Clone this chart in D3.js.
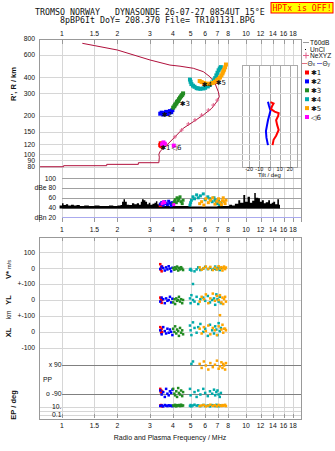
<!DOCTYPE html>
<html>
<head>
<meta charset="utf-8">
<title>Dynasonde ionogram</title>
<script src="https://d3js.org/d3.v7.min.js"></script>
<style>
  body { margin: 0; background: #fff; }
  text { font-family: "Liberation Sans", Arial, sans-serif; fill: #111; }
  .mono { font-family: "DejaVu Sans Mono", "Liberation Mono", monospace; white-space: pre; }
  .grid { stroke: #d6d6d6; stroke-width: 1; shape-rendering: crispEdges; }
  .frame { stroke: #999; stroke-width: 1; fill: none; shape-rendering: crispEdges; }
</style>
</head>
<body>
<svg id="chart" width="335" height="451"></svg>
<script>
// header
const titleLines = ["TROMSO NORWAY   DYNASONDE 26-07-27 0854UT 15\u00b0E", "8pBP6It DoY= 208.370 File= TR101131.BPG"];
const warningText = "HPTx is OFF!";

// axes
const freqTicks = [1, 1.5, 2, 3, 4, 5, 6, 7, 8, 10, 12, 14, 16, 18];
const heightTicks = [800, 600, 400, 300, 200, 150, 120, 100, 90, 80];
const ampTicks = [100, 80, 60, 40, 20];
const ampTickLabels = ["100", "dBe 80", "60", "40", "dBn 20"];
const tiltTicks = [-20, -10, 0, 10, 20];

// real height profile (MHz, km)
const profFreq = [0.76, 1.02, 1.02, 1.75, 1.75, 2.6, 2.6, 3.36, 3.38, 3.36, 3.42, 3.71, 4.11, 4.56, 5.17, 5.86, 6.51, 6.93, 7.16, 7.07, 6.78, 6.37, 5.86, 5.17, 4.38, 3.86, 3.01, 2.0, 1.51, 1.29];
const profHeight = [80, 80, 81.5, 81.5, 83.5, 83.5, 86, 86, 95, 100, 106, 118, 137, 160, 180, 203, 229, 258, 283, 309, 360, 405, 444, 472, 490, 500, 548, 656, 709, 740];

// NeXYZ markers on the profile
const neFreq = [3.71, 4.11, 4.47, 4.86, 5.28, 5.74, 6.24, 6.64, 6.98];
const neHeight = [118, 137, 155, 173, 186, 203, 222, 243, 266];

// tilt profile (deg, km)
const tiltXDeg = [1, 4, 2.5, 1.5, 5, 9, 8.5, 6.5, 7.5, 9, 6.5, 4, 3];
const tiltXHeight = [256, 250, 238, 226, 216, 210, 200, 185, 170, 155, 140, 130, 118];
const tiltYDeg = [-1.5, -0.5, 1, 0, -1.5, -2.5, -3.5, -3, -1.5];
const tiltYHeight = [258, 240, 220, 205, 185, 168, 152, 135, 118];

// unclassified amplitude (MHz, dB)
const noiseFreq = [0.97, 1.0, 1.02, 1.05, 1.08, 1.12, 1.16, 1.2, 1.25, 1.32, 1.4, 1.5, 1.6, 1.7, 1.8, 1.9, 2.0, 2.08, 2.12, 2.16, 2.2, 2.25, 2.32, 2.4, 2.47, 2.55, 2.62, 2.68, 2.72, 2.78, 2.84, 2.9, 2.96, 3.02, 3.1, 3.18, 3.24, 3.3, 3.36, 3.5, 4.0, 4.6, 5.0, 6.0, 7.0, 7.8, 8.1, 8.4, 8.7, 9.08, 9.3, 9.67, 9.9, 10.2, 10.5, 10.8, 11.09, 11.3, 11.66, 11.9, 12.2, 12.5, 12.8, 13.2, 13.5, 13.8, 14.07, 14.4, 14.8, 15.1, 15.3];
const noiseDb = [44, 49, 45, 47, 44, 46, 44, 45, 43, 44, 43, 44, 43, 43, 44, 43, 44, 45, 52, 57, 52, 46, 45, 49, 47, 49, 46, 52, 57, 55, 52, 47, 50, 46, 48, 50, 53, 47, 44, 43, 43, 43, 42, 42, 43, 43, 46, 44, 48, 55, 50, 66, 52, 62, 50, 54, 70, 60, 59, 52, 55, 49, 51, 55, 48, 50, 52, 47, 57, 46, 46];

// echo clusters
const clusterNames = ["\u27311", "\u27312", "\u27313", "\u27314", "\u27315", "\u25c16"];
const clusterColors = ["#ff0000", "#0000ff", "#228b22", "#00aaaa", "#ffa500", "#ff00ff"];
const labelFreq = [3.42, 3.5, 4.36, 5.74, 6.84, 3.94];
const labelHeight = [108, 195, 239, 337, 349, 108];

const echoFreq = [
  [3.42, 3.44, 3.46, 3.48, 3.50],
  [3.42, 3.48, 3.55, 3.62, 3.68, 3.74, 3.80, 3.86, 3.92, 3.98],
  [4.02, 4.08, 4.12, 4.18, 4.22, 4.28, 4.32, 4.38, 4.44, 4.50, 4.55],
  [4.96, 5.00, 5.05, 5.15, 5.25, 5.39, 5.50, 5.65, 5.86, 6.00, 6.20, 6.37, 6.55, 6.70, 6.80, 6.90, 7.00, 7.10, 7.20, 7.30],
  [5.60, 5.74, 5.90, 6.05, 6.24, 6.40, 6.60, 6.78, 6.95, 7.10, 7.22, 7.35, 7.45, 7.52, 7.60, 7.70, 7.78],
  [3.50, 3.56, 3.62, 4.05]
];
const echoRange = [
  [118, 122, 116, 120, 117],
  [208, 212, 205, 210, 215, 207, 212, 218, 214, 222],
  [232, 238, 245, 250, 258, 262, 270, 278, 285, 292, 300],
  [385, 370, 355, 345, 338, 330, 328, 326, 328, 332, 340, 350, 365, 380, 395, 415, 435, 455, 470, 482],
  [375, 368, 362, 358, 356, 358, 362, 370, 380, 390, 400, 415, 430, 445, 460, 480, 505],
  [120, 124, 121, 117]
];
const echoAmp = [
  [44, 47, 45, 48, 46],
  [47, 50, 45, 52, 48, 46, 53, 49, 44, 50],
  [48, 52, 56, 50, 60, 54, 58, 62, 52, 48, 55],
  [45, 50, 55, 62, 58, 66, 60, 64, 68, 56, 62, 58, 52, 60, 55, 50, 48, 54, 46, 50],
  [48, 52, 45, 58, 50, 55, 60, 47, 53, 58, 50, 46, 54, 60, 52, 48, 55],
  [48, 52, 50, 46]
];
const echoVstar = [
  [25, -10, 5, -20, 10],
  [-5, 10, 0, -15, 5, -8, 12, -3, -20, 2],
  [0, -10, 5, -5, 10, -15, 2, -8, 6, -3, -12],
  [-10, -5, -15, -100, -20, -8, 5, -12, -3, 8, -6, 2, -10, -4, 10, -8, -2, 5, -12, 0],
  [5, -10, 0, 10, -5, 8, -12, 3, -8, 12, -3, 6, -15, 0, 10, -6, 4],
  []
];
const echoYL = [
  [15, -5, 5, -18, 0],
  [-10, 15, 5, -20, 10, -5, 0, 20, -15, 8],
  [-15, 5, -25, 10, -5, 0, 20, -10, 5, -20, 0],
  [10, -20, 30, 0, -10, 20, -25, 5, 15, -5, 25, -15, 0, 10, -30, 35, 5, -10, 20, -20],
  [-10, 20, 5, 35, -20, 10, 40, -5, 25, 0, 30, -15, 15, -25, 5, 20, -10],
  []
];
const echoXL = [
  [30, 10, -5, 20, 0],
  [10, -15, 30, 5, -10, 20, -5, 15, 0, -20],
  [20, 0, 35, -10, 15, 5, -25, 25, -5, 10, -15],
  [40, 10, -20, 60, 25, -5, 30, 50, 0, 20, -25, 45, 10, -10, 35, 15, -20, 55, 5, 25],
  [20, -10, 30, 5, 40, -15, 25, 10, -20, 35, 105, 15, 45, -5, 20, 20, 10],
  []
];
const echoPP = [
  [-60, -80, -70, -85, -75],
  [-70, -95, -80, -110, -60, -90, -100, -75, -85, -65],
  [-60, -90, -100, -75, -110, -55, -85, -95, -70, -105, -80],
  [-60, -100, 95, 110, -80, -110, -70, -95, -60, -85, -105, -75, -90, -65, -100, -80, -70, -95, -110, -85],
  [95, 70, 110, 85, 60, 100, 75, 90, 115, 65, 80, 105, 70, 95, 85, 60, 100],
  []
];
const echoEP = [
  [20, 15, 25, 18, 12],
  [15, 20, 12, 25, 18, 14, 22, 16, 19, 13],
  [20, 15, 28, 12, 22, 18, 25, 14, 30, 16, 20],
  [15, 25, 12, 20, 30, 18, 22, 14, 26, 16, 20, 12, 24, 18, 15, 28, 20, 13, 22, 17],
  [14, 20, 25, 12, 18, 30, 16, 22, 13, 26, 19, 15, 24, 17, 21, 28, 14],
  []
];

// lower panel rows
const rowTickLabels = ["100", "0", "+-100", "0", "+-100", "0", "-100"];

const svg = d3.select("#chart");

// scales
const x = d3.scaleLog().domain([0.75, 20]).range([39, 301.4]);
const yR = d3.scaleLog().domain([75, 800]).range([170.3, 39]);
const yAmp = d3.scaleLinear().domain([20, 100]).range([217.3, 178.3]);
const yV = d3.scaleLinear().domain([-100, 100]).range([284, 252.3]);
const yYL = d3.scaleLinear().domain([-100, 100]).range([316, 284]);
const yXL = d3.scaleLinear().domain([-100, 100]).range([347.8, 316]);
const yPP = d3.scaleLinear().domain([-90, 90]).range([393.7, 364.7]);
const yEP = d3.scaleLog().domain([0.1, 10]).range([415, 406.7]);
const xTilt = d3.scaleLinear().domain([-27, 27]).range([242, 297]);

const left = 39, right = 301.4;
const topMain = 39, bottomAmp = 222;
const topLow = 236.7, bottomLow = 418.3;
const fmt = d3.format("~g");

// title, one text block with two lines
const title = svg.append("text")
  .attr("class", "mono")
  .style("font-size", "8.3px");
title.selectAll("tspan")
  .data(titleLines)
  .enter().append("tspan")
  .attr("x", (d, i) => i === 0 ? 35 : 60)
  .attr("y", (d, i) => i === 0 ? 15 : 22.8)
  .text(d => d);

svg.append("rect")
  .attr("x", 271).attr("y", 2.5).attr("width", 62).attr("height", 10.5)
  .attr("fill", "#ffff00").attr("stroke", "#ff0000").attr("stroke-width", 1);
svg.append("text")
  .attr("class", "mono")
  .attr("x", 302).attr("y", 10.6)
  .attr("text-anchor", "middle")
  .style("font-size", "8.2px")
  .style("fill", "#ff0000")
  .text(warningText);

// ---- upper panel grid
svg.selectAll(".vgrid")
  .data(freqTicks)
  .enter().append("line")
  .attr("class", "grid")
  .attr("x1", d => Math.round(x(d)) + 0.5).attr("x2", d => Math.round(x(d)) + 0.5)
  .attr("y1", topMain).attr("y2", bottomAmp);

svg.selectAll(".hgrid")
  .data(heightTicks)
  .enter().append("line")
  .attr("class", "grid")
  .attr("x1", left).attr("x2", right)
  .attr("y1", d => Math.round(yR(d)) + 0.5).attr("y2", d => Math.round(yR(d)) + 0.5);

svg.selectAll(".agrid")
  .data(ampTicks)
  .enter().append("line")
  .attr("x1", x(1)).attr("x2", right)
  .attr("y1", d => Math.round(yAmp(d)) + 0.5).attr("y2", d => Math.round(yAmp(d)) + 0.5)
  .attr("stroke", d => d === 20 ? "#aaaaee" : "#a0a0a0")
  .attr("shape-rendering", "crispEdges");

svg.append("path")
  .attr("class", "frame")
  .attr("d", `M${left + 0.5},${bottomAmp}V${topMain + 0.5}H${right}V${bottomAmp}`);

// top and bottom tick marks of upper panel
svg.selectAll(".ttick")
  .data(freqTicks)
  .enter().append("line")
  .attr("x1", d => Math.round(x(d)) + 0.5).attr("x2", d => Math.round(x(d)) + 0.5)
  .attr("y1", topMain).attr("y2", topMain + 5)
  .attr("stroke", "#999").attr("shape-rendering", "crispEdges");
svg.selectAll(".btick")
  .data(freqTicks)
  .enter().append("line")
  .attr("x1", d => Math.round(x(d)) + 0.5).attr("x2", d => Math.round(x(d)) + 0.5)
  .attr("y1", bottomAmp - 4).attr("y2", bottomAmp)
  .attr("stroke", "#999").attr("shape-rendering", "crispEdges");

// frequency labels
function freqLabels(y) {
  svg.append("g").selectAll("text")
    .data(freqTicks)
    .enter().append("text")
    .attr("x", d => x(d))
    .attr("y", y)
    .attr("text-anchor", "middle")
    .style("font-size", "6.8px")
    .text(d => fmt(d));
}
freqLabels(36);
freqLabels(232);
freqLabels(427.5);

// height labels
svg.selectAll(".hlab")
  .data(heightTicks)
  .enter().append("text")
  .attr("x", 35)
  .attr("y", d => yR(d) + 2.4)
  .attr("text-anchor", "end")
  .style("font-size", "6.8px")
  .text(d => d);

svg.append("text")
  .attr("transform", "translate(16,84) rotate(-90)")
  .attr("text-anchor", "middle")
  .style("font-size", "7.5px")
  .style("font-weight", "bold")
  .text("R', R / km");

// amplitude labels
svg.selectAll(".alab")
  .data(ampTicks)
  .enter().append("text")
  .attr("x", 56)
  .attr("y", d => yAmp(d) + 2.4)
  .attr("text-anchor", "end")
  .style("font-size", "6.8px")
  .text((d, i) => ampTickLabels[i]);

// unclassified amplitude
const noise = noiseFreq.map((f, i) => ({f: f, db: noiseDb[i]}));
svg.append("path")
  .datum(noise)
  .attr("fill", "#000")
  .attr("d", d3.area()
    .curve(d3.curveStepAfter)
    .x(d => x(d.f))
    .y0(yAmp(38))
    .y1(d => yAmp(d.db)));

// height profile
const prof = profFreq.map((f, i) => ({f: f, h: profHeight[i]}));
svg.append("path")
  .datum(prof)
  .attr("fill", "none")
  .attr("stroke", "#b0103c")
  .attr("stroke-width", 1)
  .attr("d", d3.line().x(d => x(d.f)).y(d => yR(d.h)));

svg.selectAll(".ne")
  .data(neFreq)
  .enter().append("path")
  .attr("d", (d, i) => {
    const cx = x(d), cy = yR(neHeight[i]);
    return `M${cx - 2},${cy}H${cx + 2}M${cx},${cy - 2}V${cy + 2}`;
  })
  .attr("stroke", "#e0608a")
  .attr("stroke-width", 1);

// echoes in upper panel
clusterColors.forEach((color, c) => {
  const g = svg.append("g").attr("fill", color);
  echoFreq[c].forEach((f, j) => {
    g.append("rect")
      .attr("x", x(f) - 2).attr("y", yR(echoRange[c][j]) - 2)
      .attr("width", 4).attr("height", 4);
    g.append("rect")
      .attr("x", x(f) - 1.5).attr("y", yAmp(echoAmp[c][j]) - 1.5)
      .attr("width", 3).attr("height", 3);
  });
});

svg.selectAll(".clab")
  .data(clusterNames)
  .enter().append("text")
  .attr("x", (d, i) => x(labelFreq[i]))
  .attr("y", (d, i) => yR(labelHeight[i]))
  .style("font-size", "7px")
  .style("font-family", "DejaVu Sans, sans-serif")
  .text(d => d);

// tilt inset
const tiltTop = yR(500), tiltBottom = yR(80);
svg.append("rect")
  .attr("x", xTilt(-27) + 0.5).attr("y", Math.round(tiltTop) + 0.5)
  .attr("width", xTilt(27) - xTilt(-27)).attr("height", Math.round(tiltBottom - tiltTop))
  .attr("fill", "#fff").attr("stroke", "#aaa").attr("shape-rendering", "crispEdges");
svg.selectAll(".tgrid")
  .data(tiltTicks)
  .enter().append("line")
  .attr("x1", d => Math.round(xTilt(d)) + 0.5).attr("x2", d => Math.round(xTilt(d)) + 0.5)
  .attr("y1", tiltTop).attr("y2", tiltBottom)
  .attr("stroke", "#aaa").attr("shape-rendering", "crispEdges");
svg.selectAll(".thgrid")
  .data(heightTicks.filter(h => h < 500 && h > 80))
  .enter().append("line")
  .attr("x1", xTilt(-27)).attr("x2", xTilt(27))
  .attr("y1", d => Math.round(yR(d)) + 0.5).attr("y2", d => Math.round(yR(d)) + 0.5)
  .attr("stroke", "#ddd").attr("shape-rendering", "crispEdges");
svg.selectAll(".tlab")
  .data(tiltTicks)
  .enter().append("text")
  .attr("x", d => xTilt(d))
  .attr("y", tiltBottom + 4.5)
  .attr("text-anchor", "middle")
  .style("font-size", "5.5px")
  .text(d => d);
svg.append("text")
  .attr("x", xTilt(0)).attr("y", tiltBottom + 10)
  .attr("text-anchor", "middle")
  .style("font-size", "6px")
  .text("Tilt / deg");

const tiltLine = d3.line().x(d => xTilt(d.deg)).y(d => yR(d.h));
svg.append("path")
  .datum(tiltYDeg.map((d, i) => ({deg: d, h: tiltYHeight[i]})))
  .attr("fill", "none").attr("stroke", "#0000ff").attr("stroke-width", 2)
  .attr("d", tiltLine);
svg.append("path")
  .datum(tiltXDeg.map((d, i) => ({deg: d, h: tiltXHeight[i]})))
  .attr("fill", "none").attr("stroke", "#ff0000").attr("stroke-width", 2)
  .attr("d", tiltLine);

// legend
const lg = svg.append("g").style("font-size", "6.6px");
lg.append("line").attr("x1", 303).attr("x2", 309).attr("y1", 42.5).attr("y2", 42.5).attr("stroke", "#999");
lg.append("text").attr("x", 310).attr("y", 45).text("T60dB");
lg.append("rect").attr("x", 305).attr("y", 49).attr("width", 1).attr("height", 1).attr("fill", "#000");
lg.append("text").attr("x", 310).attr("y", 51.5).text("UnCl");
lg.append("path").attr("d", "M303,55.5H309M306,52.5V58.5").attr("stroke", "#e0608a");
lg.append("text").attr("x", 310).attr("y", 58).text("NeXYZ");
lg.append("line").attr("x1", 302).attr("x2", 307).attr("y1", 63.5).attr("y2", 63.5).attr("stroke", "#e07080");
lg.append("text").attr("x", 307.5).attr("y", 66).html("\u0398<tspan style='font-size:4.5px'>x</tspan>");
lg.append("line").attr("x1", 317).attr("x2", 322).attr("y1", 63.5).attr("y2", 63.5).attr("stroke", "#7070e0");
lg.append("text").attr("x", 322.5).attr("y", 66).html("\u0398<tspan style='font-size:4.5px'>y</tspan>");
clusterNames.forEach((name, i) => {
  const yy = 72.5 + i * 8.9;
  lg.append("rect").attr("x", 305).attr("y", yy - 2).attr("width", 4).attr("height", 4).attr("fill", clusterColors[i]);
  lg.append("text").attr("x", 311).attr("y", yy + 2.6)
    .style("font-family", "DejaVu Sans, sans-serif").style("font-size", "7px").text(name);
});

// ---- lower panel
svg.selectAll(".lvgrid")
  .data(freqTicks)
  .enter().append("line")
  .attr("class", "grid")
  .attr("x1", d => Math.round(x(d)) + 0.5).attr("x2", d => Math.round(x(d)) + 0.5)
  .attr("y1", topLow).attr("y2", bottomLow);

const rowLines = [yV(100), yV(0), yV(-100), yYL(0), yXL(100), yXL(0), yXL(-100), yEP(10), yEP(1), yEP(0.1)];
svg.selectAll(".lhgrid")
  .data(rowLines)
  .enter().append("line")
  .attr("class", "grid")
  .attr("x1", left).attr("x2", right)
  .attr("y1", d => Math.round(d) + 0.5).attr("y2", d => Math.round(d) + 0.5);

svg.selectAll(".ppline")
  .data([90, -90])
  .enter().append("line")
  .attr("x1", x(1)).attr("x2", right)
  .attr("y1", d => Math.round(yPP(d)) + 0.5).attr("y2", d => Math.round(yPP(d)) + 0.5)
  .attr("stroke", "#808080").attr("shape-rendering", "crispEdges");

svg.append("rect")
  .attr("class", "frame")
  .attr("x", left + 0.5).attr("y", Math.round(topLow) + 0.5)
  .attr("width", right - left).attr("height", Math.round(bottomLow - topLow));

svg.selectAll(".lttick")
  .data(freqTicks)
  .enter().append("line")
  .attr("x1", d => Math.round(x(d)) + 0.5).attr("x2", d => Math.round(x(d)) + 0.5)
  .attr("y1", topLow).attr("y2", topLow + 4)
  .attr("stroke", "#999").attr("shape-rendering", "crispEdges");
svg.selectAll(".lbtick")
  .data(freqTicks)
  .enter().append("line")
  .attr("x1", d => Math.round(x(d)) + 0.5).attr("x2", d => Math.round(x(d)) + 0.5)
  .attr("y1", bottomLow - 4).attr("y2", bottomLow)
  .attr("stroke", "#999").attr("shape-rendering", "crispEdges");

const rowTickPos = [yV(100), yV(0), yV(-100), yYL(0), yXL(100), yXL(0), yXL(-100)];
svg.selectAll(".rlab")
  .data(rowTickLabels)
  .enter().append("text")
  .attr("x", 35)
  .attr("y", (d, i) => rowTickPos[i] + 2.4)
  .attr("text-anchor", "end")
  .style("font-size", "6.8px")
  .text(d => d);

const ppLabels = [["x 90", yPP(90)], ["o -90", yPP(-90)], ["10.", yEP(10)], ["0.1", yEP(0.1)]];
svg.selectAll(".pplab")
  .data(ppLabels)
  .enter().append("text")
  .attr("x", 61.5)
  .attr("y", d => d[1] + 2.4)
  .attr("text-anchor", "end")
  .style("font-size", "6.8px")
  .text(d => d[0]);
svg.append("text").attr("x", 43).attr("y", 381.5).style("font-size", "6.8px").text("PP");

// row titles
const rowTitles = [["V* ", 279, "m/s"], ["YL", 300, ""], ["km", 315, ""], ["XL", 332.5, ""], ["EP / deg", 405, ""]];
rowTitles.forEach(r => {
  const t = svg.append("text")
    .attr("transform", `translate(${r[0] === "EP / deg" ? 15.5 : 10.5},${r[1]}) rotate(-90)`)
    .attr("text-anchor", r[2] ? "start" : "middle")
    .style("font-size", r[0] === "km" ? "6.5px" : "7.5px")
    .style("font-weight", r[0] === "km" ? "normal" : "bold")
    .text(r[0]);
  if (r[2]) t.append("tspan").style("font-size", "5.5px").style("font-weight", "normal").text(r[2]);
});

// echoes in lower panel
const rows = [[echoVstar, yV], [echoYL, yYL], [echoXL, yXL], [echoPP, yPP], [echoEP, yEP]];
clusterColors.forEach((color, c) => {
  const g = svg.append("g").attr("fill", color);
  rows.forEach(row => {
    row[0][c].forEach((v, j) => {
      g.append("rect")
        .attr("x", x(echoFreq[c][j]) - 1.25).attr("y", row[1](v) - 1.25)
        .attr("width", 2.5).attr("height", 2.5);
    });
  });
});

svg.append("text")
  .attr("x", 170).attr("y", 440)
  .attr("text-anchor", "middle")
  .style("font-size", "7px")
  .text("Radio and Plasma Frequency / MHz");
</script>
</body>
</html>
